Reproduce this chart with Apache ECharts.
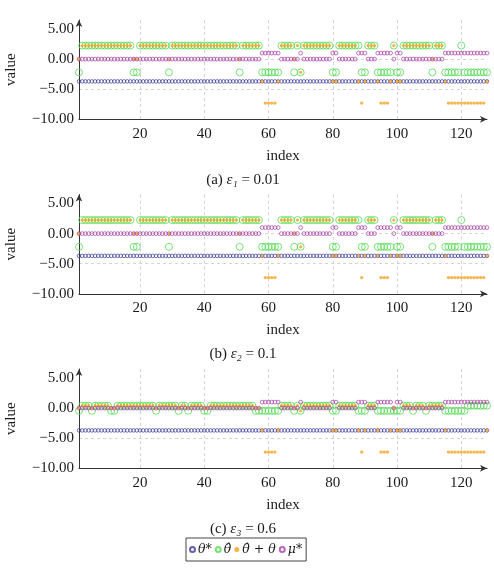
<!DOCTYPE html>
<html><head><meta charset="utf-8">
<script src="https://cdn.jsdelivr.net/npm/echarts@6/dist/echarts.min.js"></script>
<style>html,body{margin:0;padding:0;background:#fff}#c{width:494px;height:574px}</style>
</head><body><div id="c"></div>
<script>
const index = [1,2,3,4,5,6,7,8,9,10,11,12,13,14,15,16,17,18,19,20,21,22,23,24,25,26,27,28,29,30,31,32,
33,34,35,36,37,38,39,40,41,42,43,44,45,46,47,48,49,50,51,52,53,54,55,56,57,58,59,60,61,62,63,64,
65,66,67,68,69,70,71,72,73,74,75,76,77,78,79,80,81,82,83,84,85,86,87,88,89,90,91,92,93,94,95,96,
97,98,99,100,101,102,103,104,105,106,107,108,109,110,111,112,113,114,115,116,117,118,119,120,121,122,123,124,125,126,127,128];

const thetaStar = [
-3.7,-3.7,-3.7,-3.7,-3.7,-3.7,-3.7,-3.7,-3.7,-3.7,-3.7,-3.7,-3.7,-3.7,-3.7,-3.7,
-3.7,-3.7,-3.7,-3.7,-3.7,-3.7,-3.7,-3.7,-3.7,-3.7,-3.7,-3.7,-3.7,-3.7,-3.7,-3.7,
-3.7,-3.7,-3.7,-3.7,-3.7,-3.7,-3.7,-3.7,-3.7,-3.7,-3.7,-3.7,-3.7,-3.7,-3.7,-3.7,
-3.7,-3.7,-3.7,-3.7,-3.7,-3.7,-3.7,-3.7,-3.7,-3.7,-3.7,-3.7,-3.7,-3.7,-3.7,-3.7,
-3.7,-3.7,-3.7,-3.7,-3.7,-3.7,-3.7,-3.7,-3.7,-3.7,-3.7,-3.7,-3.7,-3.7,-3.7,-3.7,
-3.7,-3.7,-3.7,-3.7,-3.7,-3.7,-3.7,-3.7,-3.7,-3.7,-3.7,-3.7,-3.7,-3.7,-3.7,-3.7,
-3.7,-3.7,-3.7,-3.7,-3.7,-3.7,-3.7,-3.7,-3.7,-3.7,-3.7,-3.7,-3.7,-3.7,-3.7,-3.7,
-3.7,-3.7,-3.7,-3.7,-3.7,-3.7,-3.7,-3.7,-3.7,-3.7,-3.7,-3.7,-3.7,-3.7,-3.7,-3.7];

const muStar = [
0,0,0,0,0,0,0,0,0,0,
0,0,0,0,0,0,0,0,0,0,
0,0,0,0,0,0,0,0,0,0,
0,0,0,0,0,0,0,0,0,0,
0,0,0,0,0,0,0,0,0,0,
0,0,0,0,0,0,0,1,1,1,
1,1,1,0,0,0,0,0,0,1,
0,0,0,0,0,0,0,0,0,1,
1,0,0,0,0,0,0,1,1,1,
0,0,0,1,1,1,1,1,0,1,
1,0,0,0,0,0,0,0,0,0,
0,0,0,0,1,1,1,1,1,1,
1,1,1,1,1,1,1,1];

const thetaHatA = [
-2.2,2.25,2.25,2.25,2.25,2.25,2.25,2.25,2.25,2.25,
2.25,2.25,2.25,2.25,2.25,2.25,2.25,-2.2,-2.2,2.25,
2.25,2.25,2.25,2.25,2.25,2.25,2.25,2.25,-2.2,2.25,
2.25,2.25,2.25,2.25,2.25,2.25,2.25,2.25,2.25,2.25,
2.25,2.25,2.25,2.25,2.25,2.25,2.25,2.25,2.25,2.25,
-2.2,2.25,2.25,2.25,2.25,2.25,2.25,-2.2,-2.2,-2.2,
-2.2,-2.2,-2.2,2.25,2.25,2.25,2.25,-2.2,2.25,-2.2,
2.25,2.25,2.25,2.25,2.25,2.25,2.25,2.25,2.25,-2.2,
-2.2,2.25,2.25,2.25,2.25,2.25,2.25,2.25,-2.2,-2.2,
2.25,2.25,2.25,-2.2,-2.2,-2.2,-2.2,-2.2,2.25,-2.2,
-2.2,2.25,2.25,2.25,2.25,2.25,2.25,2.25,2.25,2.25,
-2.2,2.25,2.25,2.25,-2.2,-2.2,-2.2,-2.2,-2.2,2.25,
-2.2,-2.2,-2.2,-2.2,-2.2,-2.2,-2.2,-2.2];

const sumA = [
0,2.25,2.25,2.25,2.25,2.25,2.25,2.25,2.25,2.25,
2.25,2.25,2.25,2.25,2.25,2.25,2.25,0,0,2.25,
2.25,2.25,2.25,2.25,2.25,2.25,2.25,2.25,0,2.25,
2.25,2.25,2.25,2.25,2.25,2.25,2.25,2.25,2.25,2.25,
2.25,2.25,2.25,2.25,2.25,2.25,2.25,2.25,2.25,2.25,
0,2.25,2.25,2.25,2.25,2.25,2.25,-3.7,-7.3,-7.3,
-7.3,-7.3,-3.7,2.25,2.25,2.25,2.25,0,2.25,-2.2,
2.25,2.25,2.25,2.25,2.25,2.25,2.25,2.25,2.25,-3.7,
-3.7,2.25,2.25,2.25,2.25,2.25,2.25,-3.7,-7.3,-3.7,
2.25,2.25,2.25,-3.7,-7.3,-7.3,-7.3,-3.7,2.25,-3.7,
-3.7,2.25,2.25,2.25,2.25,2.25,2.25,2.25,2.25,2.25,
0,2.25,2.25,2.25,-3.7,-7.3,-7.3,-7.3,-7.3,-7.3,
-7.3,-7.3,-7.3,-7.3,-7.3,-7.3,-7.3,-3.7];

const thetaHatB = [
-2.2,2.25,2.25,2.25,2.25,2.25,2.25,2.25,2.25,2.25,
2.25,2.25,2.25,2.25,2.25,2.25,2.25,-2.2,-2.2,2.25,
2.25,2.25,2.25,2.25,2.25,2.25,2.25,2.25,-2.2,2.25,
2.25,2.25,2.25,2.25,2.25,2.25,2.25,2.25,2.25,2.25,
2.25,2.25,2.25,2.25,2.25,2.25,2.25,2.25,2.25,2.25,
-2.2,2.25,2.25,2.25,2.25,2.25,2.25,-2.2,-2.2,-2.2,
-2.2,-2.2,-2.2,2.25,2.25,2.25,2.25,-2.2,2.25,-2.2,
2.25,2.25,2.25,2.25,2.25,2.25,2.25,2.25,2.25,-2.2,
-2.2,2.25,2.25,2.25,2.25,2.25,2.25,2.25,-2.2,-2.2,
2.25,2.25,2.25,-2.2,-2.2,-2.2,-2.2,-2.2,2.25,-2.2,
-2.2,2.25,2.25,2.25,2.25,2.25,2.25,2.25,2.25,2.25,
-2.2,2.25,2.25,2.25,-2.2,-2.2,-2.2,-2.2,-2.2,2.25,
-2.2,-2.2,-2.2,-2.2,-2.2,-2.2,-2.2,-2.2];

const sumB = [
0,2.25,2.25,2.25,2.25,2.25,2.25,2.25,2.25,2.25,
2.25,2.25,2.25,2.25,2.25,2.25,2.25,0,0,2.25,
2.25,2.25,2.25,2.25,2.25,2.25,2.25,2.25,0,2.25,
2.25,2.25,2.25,2.25,2.25,2.25,2.25,2.25,2.25,2.25,
2.25,2.25,2.25,2.25,2.25,2.25,2.25,2.25,2.25,2.25,
0,2.25,2.25,2.25,2.25,2.25,2.25,-3.7,-7.3,-7.3,
-7.3,-7.3,-3.7,2.25,2.25,2.25,2.25,0,2.25,-2.2,
2.25,2.25,2.25,2.25,2.25,2.25,2.25,2.25,2.25,-3.7,
-3.7,2.25,2.25,2.25,2.25,2.25,2.25,-3.7,-7.3,-3.7,
2.25,2.25,2.25,-3.7,-7.3,-7.3,-7.3,-3.7,2.25,-3.7,
-3.7,2.25,2.25,2.25,2.25,2.25,2.25,2.25,2.25,2.25,
0,2.25,2.25,2.25,-3.7,-7.3,-7.3,-7.3,-7.3,-7.3,
-7.3,-7.3,-7.3,-7.3,-7.3,-7.3,-7.3,-3.7];

const thetaHatC = [
-0.45,0.4,0.4,0.4,-0.45,0.4,0.4,0.4,0.4,0.4,
-0.45,-0.45,0.4,0.4,0.4,0.4,0.4,0.4,0.4,0.4,
0.4,0.4,0.4,0.4,-0.45,0.4,0.4,0.4,0.4,0.4,
0.4,-0.45,0.4,0.4,-0.45,0.4,0.4,0.4,0.4,-0.45,
-0.45,0.4,0.4,0.4,0.4,0.4,0.4,0.4,0.4,0.4,
0.4,0.4,0.4,0.4,0.4,-0.45,-0.45,-0.45,-0.45,-0.45,
-0.45,-0.45,-0.45,0.4,0.4,0.4,0.4,-0.45,0.4,-0.45,
0.4,0.4,0.4,0.4,0.4,0.4,0.4,0.4,0.4,-0.45,
-0.45,0.4,0.4,0.4,0.4,0.4,0.4,-0.45,-0.45,-0.45,
0.4,0.4,0.4,-0.45,-0.45,-0.45,-0.45,-0.45,-0.45,-0.45,
-0.45,0.4,0.4,0.4,-0.45,0.4,0.4,0.4,-0.45,0.4,
0.4,0.4,0.4,0.4,-0.45,-0.45,-0.45,-0.45,-0.45,-0.45,
-0.45,0.4,0.4,0.4,0.4,0.4,0.4,0.4];

const sumC = [
0,0.4,0.4,0.4,0,0.4,0.4,0.4,0.4,0.4,
0,0,0.4,0.4,0.4,0.4,0.4,0.4,0.4,0.4,
0.4,0.4,0.4,0.4,0,0.4,0.4,0.4,0.4,0.4,
0.4,0,0.4,0.4,0,0.4,0.4,0.4,0.4,0,
0,0.4,0.4,0.4,0.4,0.4,0.4,0.4,0.4,0.4,
0.4,0.4,0.4,0.4,0.4,0,0,-3.7,-7.3,-7.3,
-7.3,-7.3,-3.7,0.4,0.4,0.4,0.4,0,0.4,-0.45,
0.4,0.4,0.4,0.4,0.4,0.4,0.4,0.4,0.4,-3.7,
-3.7,0.4,0.4,0.4,0.4,0.4,0.4,-3.7,-7.3,-3.7,
0.4,0.4,0.4,-3.7,-7.3,-7.3,-7.3,-3.7,0,-3.7,
-3.7,0.4,0.4,0.4,0,0.4,0.4,0.4,0,0.4,
0.4,0.4,0.4,0.4,-3.7,-7.3,-7.3,-7.3,-7.3,-7.3,
-7.3,-7.3,-7.3,-7.3,-7.3,-7.3,-7.3,-3.7];

const xTicks = [20, 40, 60, 80, 100, 120];
const yTicks = [-10, -5, 0, 5];
const captions = [['(a) ', 'ε₁', ' = 0.01'], ['(b) ', 'ε₂', ' = 0.1'], ['(c) ', 'ε₃', ' = 0.6']];
const seriesNames = ['θ*', 'θ\u0302', 'θ\u0302 + θ', 'μ*'];

const panels = [
  { hat: thetaHatA, sum: sumA },
  { hat: thetaHatB, sum: sumB },
  { hat: thetaHatC, sum: sumC }
];

const FONT = 'Liberation Serif';
const TXT = '#1a1a1a';
const PANEL_DY = 174.5;
const GRID_TOP = 20;
const GRID_H = 99.3;

function pts(arr) { return index.map((x, i) => [x, arr[i]]); }
function fmtY(v) { return (v < 0 ? '\u2212' : '') + Math.abs(v).toFixed(2); }

const grids = [], xAxes = [], yAxes = [], series = [], graphics = [];
panels.forEach((p, k) => {
  grids.push({ left: 79, width: 408, top: GRID_TOP + k * PANEL_DY, height: GRID_H, containLabel: false, outerBoundsMode: 'none' });
  xAxes.push({
    type: 'value', gridIndex: k, min: 1, max: 128,
    name: 'index', nameLocation: 'middle', nameGap: 29,
    nameTextStyle: { fontFamily: FONT, fontSize: 15, color: TXT },
    axisLine: { show: true, onZero: false, symbol: ['none', 'arrow'], symbolSize: [5, 7], lineStyle: { color: '#333', width: 1 } },
    axisTick: { show: false, customValues: xTicks },
    axisLabel: { customValues: xTicks, fontFamily: FONT, fontSize: 15, color: TXT, margin: 7 },
    splitLine: { show: true, lineStyle: { color: '#c9c9c9', type: [3, 3], width: 0.8 } }
  });
  yAxes.push({
    type: 'value', gridIndex: k, min: -10, max: 6.5,
    name: 'value', nameLocation: 'middle', nameGap: 60, nameRotate: 90,
    nameTextStyle: { fontFamily: FONT, fontSize: 15, color: TXT },
    axisLine: { show: true, onZero: false, symbol: ['none', 'arrow'], symbolSize: [5, 7], lineStyle: { color: '#333', width: 1 } },
    axisTick: { show: false, customValues: yTicks },
    axisLabel: { customValues: yTicks, formatter: fmtY, fontFamily: FONT, fontSize: 15, color: TXT, margin: 5 },
    splitLine: { show: true, showMinLine: false, showMaxLine: false, lineStyle: { color: '#c9c9c9', type: [3, 3], width: 0.8 } }
  });
  series.push({
    name: seriesNames[0], type: 'scatter', xAxisIndex: k, yAxisIndex: k, data: pts(thetaStar),
    symbol: 'circle', symbolSize: 3.6,
    itemStyle: { color: 'rgba(255,255,255,0)', borderColor: '#3a3a9c', borderWidth: 0.9 }
  });
  series.push({
    name: seriesNames[1], type: 'scatter', xAxisIndex: k, yAxisIndex: k, data: pts(p.hat),
    symbol: 'circle', symbolSize: 7,
    itemStyle: { color: 'rgba(255,255,255,0)', borderColor: '#55dc55', borderWidth: 1 }
  });
  series.push({
    name: seriesNames[2], type: 'scatter', xAxisIndex: k, yAxisIndex: k, data: pts(p.sum),
    symbol: 'circle', symbolSize: 3.3,
    itemStyle: { color: '#f5a01f' }
  });
  series.push({
    name: seriesNames[3], type: 'scatter', xAxisIndex: k, yAxisIndex: k, data: pts(muStar),
    symbol: 'circle', symbolSize: 3.8,
    itemStyle: { color: 'rgba(255,255,255,0)', borderColor: '#a640a6', borderWidth: 0.9 }
  });
  const c = captions[k];
  graphics.push({
    type: 'text', x: 243, y: 180 + k * PANEL_DY,
    style: {
      text: c[0] + '{e|' + c[1] + '}' + c[2],
      align: 'center', verticalAlign: 'middle',
      font: '15px "Liberation Serif"', fill: TXT,
      rich: { e: { fontStyle: 'italic', fontFamily: FONT, fontSize: 15, fill: TXT } }
    }
  });
});

const chart = echarts.init(document.getElementById('c'), null, { renderer: 'canvas' });
chart.setOption({
  animation: false,
  backgroundColor: '#fff',
  grid: grids, xAxis: xAxes, yAxis: yAxes, series: series,
  graphic: graphics,
  legend: {
    data: seriesNames, left: 186, top: 538, orient: 'horizontal',
    padding: [5, 4, 5, 3], itemGap: 3, itemWidth: 5, itemHeight: 5,
    borderColor: '#444', borderWidth: 1, borderRadius: 0,
    textStyle: { fontFamily: 'DejaVu Serif', fontSize: 12.5, fontStyle: 'italic', color: TXT, padding: [0, 0, 0, -2] }
  }
});
</script>
</body></html>
